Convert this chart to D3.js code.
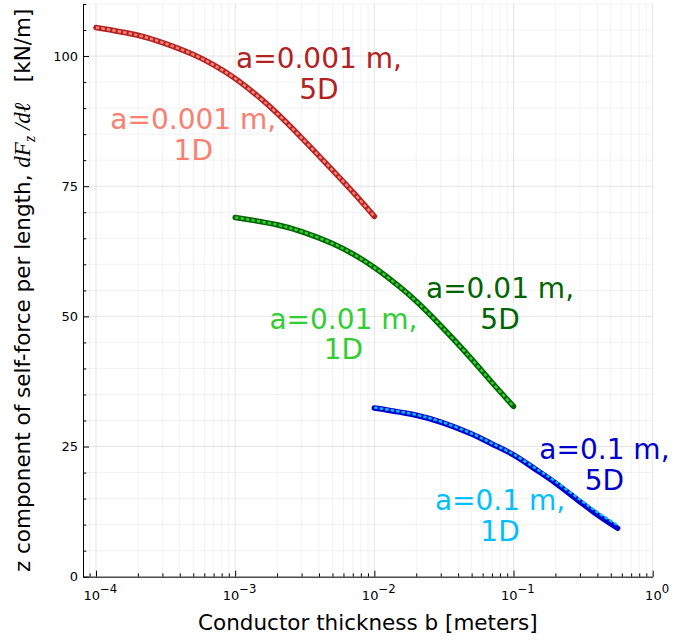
<!DOCTYPE html>
<html>
<head>
<meta charset="utf-8">
<script src="https://cdn.jsdelivr.net/npm/d3@7"></script>
<style>
  body { margin: 0; background: #fff; }
  svg text { font-family: "DejaVu Sans", sans-serif; }
</style>
</head>
<body>
<svg id="chart" width="695" height="642"></svg>
<script>
// conductor thickness b [m] and z self-force per length [kN/m]
const bA001 = [1e-4, 2e-4, 3e-4, 5e-4, 7e-4, 1e-3, 1.5e-3, 2e-3, 3e-3, 5e-3, 7e-3, 1e-2];
const fA001_5D = [105.5, 104.0, 102.6, 100.3, 98.3, 95.7, 92.0, 89.0, 84.3, 78.1, 73.9, 69.2];
const fA001_1D = [105.5, 104.0, 102.6, 100.3, 98.3, 95.7, 92.0, 89.0, 84.3, 78.1, 73.9, 69.2];

const bA01 = [1e-3, 2e-3, 3e-3, 5e-3, 7e-3, 1e-2, 1.5e-2, 2e-2, 3e-2, 5e-2, 7e-2, 1e-1];
const fA01_5D = [69.0, 67.6, 66.3, 64.0, 62.0, 59.4, 55.8, 52.9, 48.2, 41.8, 37.3, 32.7];
const fA01_1D = [69.0, 67.6, 66.3, 64.0, 62.0, 59.4, 55.8, 52.9, 48.2, 41.8, 37.3, 32.7];

const bA1 = [1e-2, 2e-2, 3e-2, 5e-2, 7e-2, 1e-1, 1.5e-1, 2e-1, 3e-1, 4e-1, 5.6e-1];
const fA1_5D = [32.4, 31.0, 29.7, 27.4, 25.5, 23.4, 20.3, 18.0, 14.4, 11.9, 9.3];
const fA1_1D = [32.5, 31.1, 29.8, 27.5, 25.6, 23.5, 20.5, 18.3, 14.8, 12.4, 9.9];

const yTicks = [0, 25, 50, 75, 100];
const xDecades = [-4, -3, -2, -1, 0];

const labelTexts = [
    ["a=0.001 m,", "5D"], ["a=0.001 m,", "1D"],
    ["a=0.01 m,", "5D"], ["a=0.01 m,", "1D"],
    ["a=0.1 m,", "5D"], ["a=0.1 m,", "1D"]
];
const labelB = [0.004, 0.0005, 0.08, 0.006, 0.45, 0.08];
const labelF = [96.6, 84.9, 52.5, 46.6, 21.6, 11.8];

const series = [
    { b: bA001, f: fA001_5D, kind: "5D", color: "#b22222" },
    { b: bA001, f: fA001_1D, kind: "1D", color: "#fa8072" },
    { b: bA01, f: fA01_5D, kind: "5D", color: "#006400" },
    { b: bA01, f: fA01_1D, kind: "1D", color: "#32cd32" },
    { b: bA1, f: fA1_5D, kind: "5D", color: "#0000cd" },
    { b: bA1, f: fA1_1D, kind: "1D", color: "#00bfff" }
];
const labelColors = ["#b22222", "#fa8072", "#006400", "#32cd32", "#0000cd", "#00bfff"];

const margin = { left: 83, top: 4, right: 42.3, bottom: 65.3 };
const width = 695, height = 642;

const svg = d3.select("#chart");

const x = d3.scaleLog()
    .domain([Math.pow(10, -4.0934), 1])
    .range([margin.left, width - margin.right]);
const y = d3.scaleLinear()
    .domain([0, 110])
    .range([height - margin.bottom, margin.top]);

// grid
const xMinor = [];
xDecades.forEach(e => {
    for (let k = 2; k <= 9; k++) {
        const v = k * Math.pow(10, e - 1);
        if (v >= x.domain()[0]) xMinor.push(v);
    }
});
const yMinor = d3.range(0, 111, 5).filter(v => v % 25 !== 0);
const xMajor = xDecades.map(e => Math.pow(10, e));

function gridLines(g, vals, vertical, opacity) {
    g.append("g").selectAll("line").data(vals).join("line")
        .attr("x1", d => vertical ? x(d) : x.range()[0])
        .attr("x2", d => vertical ? x(d) : x.range()[1])
        .attr("y1", d => vertical ? y.range()[0] : y(d))
        .attr("y2", d => vertical ? y.range()[1] : y(d))
        .attr("stroke", "#000").attr("stroke-opacity", opacity);
}
const grid = svg.append("g");
gridLines(grid, xMinor, true, 0.05);
gridLines(grid, yMinor, false, 0.05);
gridLines(grid, xMajor, true, 0.1);
gridLines(grid, yTicks, false, 0.1);

// axes, ticks pointing inward
const yAxis = svg.append("g")
    .attr("transform", `translate(${margin.left},0)`)
    .call(d3.axisLeft(y).tickValues(yTicks).tickSize(-6).tickSizeOuter(0).tickPadding(5));
svg.append("g")
    .attr("transform", `translate(${margin.left},0)`)
    .call(d3.axisLeft(y).tickValues(yMinor).tickSize(-3.3).tickSizeOuter(0).tickFormat(""))
    .select(".domain").remove();

const xAxis = svg.append("g")
    .attr("transform", `translate(0,${height - margin.bottom})`)
    .call(d3.axisBottom(x).tickValues(xMajor).tickSize(-6).tickSizeOuter(0).tickPadding(14));
svg.append("g")
    .attr("transform", `translate(0,${height - margin.bottom})`)
    .call(d3.axisBottom(x).tickValues(xMinor).tickSize(-3.3).tickSizeOuter(0).tickFormat(""))
    .select(".domain").remove();

svg.selectAll(".domain").attr("stroke", "#000").attr("stroke-width", 1);
svg.selectAll(".tick line").attr("stroke", "#000");

yAxis.selectAll("text").attr("font-size", 13).attr("fill", "#000");

xAxis.selectAll("text")
    .attr("font-size", 13).attr("fill", "#000")
    .text(null)
    .each(function(d) {
        const t = d3.select(this);
        t.append("tspan").text("10");
        t.append("tspan").attr("dy", "-0.6em").attr("font-size", 13 * 0.9)
            .text(String(Math.round(Math.log10(d))).replace("-", "\u2212"));
    })
    .attr("dx", "0.3em");

// curves
const line = d3.line()
    .x(d => x(d[0]))
    .y(d => y(d[1]))
    .curve(d3.curveCatmullRom);

const curves = svg.append("g");
series.forEach(s => {
    const pts = s.b.map((b, i) => [b, s.f[i]]);
    const path = curves.append("path")
        .attr("d", line(pts))
        .attr("fill", "none")
        .attr("stroke", s.color);
    if (s.kind === "5D") {
        path.attr("stroke-width", 5.5).attr("stroke-linecap", "round");
    } else {
        path.attr("stroke-width", 2.5).attr("stroke-dasharray", "3.5,2");
    }
});

// annotations
const labels = svg.append("g")
    .attr("font-size", 28)
    .attr("text-anchor", "middle");
labelTexts.forEach((lines, i) => {
    const cx = x(labelB[i]), cy = y(labelF[i]);
    lines.forEach((s, j) => {
        labels.append("text")
            .attr("x", cx)
            .attr("y", cy + (j - 0.5) * 30.6 + 10)
            .attr("fill", labelColors[i])
            .text(s);
    });
});

// axis titles
svg.append("text")
    .attr("x", (x.range()[0] + x.range()[1]) / 2)
    .attr("y", 630)
    .attr("text-anchor", "middle")
    .attr("font-size", 21.5)
    .text("Conductor thickness b [meters]");

const yt = svg.append("text")
    .attr("transform", `translate(30,${(y.range()[0] + y.range()[1]) / 2}) rotate(-90)`)
    .attr("text-anchor", "middle")
    .attr("font-size", 21.5)
    .attr("xml:space", "preserve");
const serif = "Liberation Serif, serif";
yt.append("tspan").text("z component of self-force per length, ");
yt.append("tspan").attr("font-family", serif).attr("font-style", "italic").attr("font-size", 23).text("dF");
yt.append("tspan").attr("font-family", serif).attr("font-style", "italic")
    .attr("font-size", 16).attr("dy", 5).text("z");
yt.append("tspan").attr("font-family", serif).attr("font-style", "italic").attr("font-size", 23)
    .attr("dy", -5).text(" /dℓ");
yt.append("tspan").text("   [kN/m]");
</script>
</body>
</html>
